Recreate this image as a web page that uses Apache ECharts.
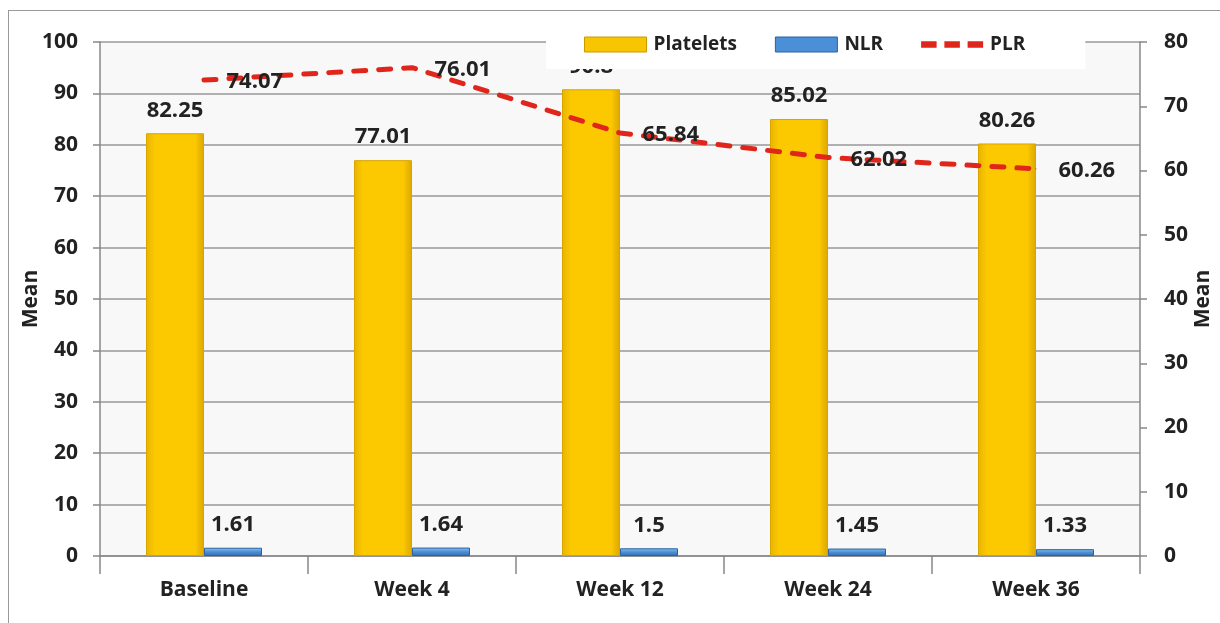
<!DOCTYPE html>
<html><head><meta charset="utf-8">
<script src="https://cdn.jsdelivr.net/npm/echarts@6/dist/echarts.min.js"></script>
<style>html,body{margin:0;padding:0;background:#fff}#c{width:1220px;height:623px}
#frame{position:absolute;left:8px;top:10px;width:1230px;height:640px;border:1.5px solid #999;pointer-events:none}</style>
</head><body><div id="c"></div><div id="frame"></div>
<script>
const categories = ['Baseline', 'Week 4', 'Week 12', 'Week 24', 'Week 36'];
const platelets = [82.25, 77.01, 90.8, 85.02, 80.26];
const nlr = [1.61, 1.64, 1.5, 1.45, 1.33];
const plr = [74.07, 76.01, 65.84, 62.02, 60.26];
const leftTicks = {min: 0, max: 100, interval: 10};
const rightTicks = {min: 0, max: 80, interval: 10};

const font = 'Open Sans, Liberation Sans, sans-serif';
const yellow = new echarts.graphic.LinearGradient(0, 0, 1, 0, [
  {offset: 0, color: '#e8b400'}, {offset: 0.15, color: '#fcc800'},
  {offset: 0.85, color: '#fcc800'}, {offset: 1, color: '#dca600'}]);
const blue = new echarts.graphic.LinearGradient(0, 0, 0, 1, [
  {offset: 0, color: '#8fc3ee'}, {offset: 0.5, color: '#4b8fd6'}, {offset: 1, color: '#2f6fb4'}]);

const chart = echarts.init(document.getElementById('c'));
chart.setOption({
  animation: false,
  textStyle: {fontFamily: font},
  grid: {left: 100, right: 80, top: 42, bottom: 67, show: true, backgroundColor: '#f8f8f8', borderWidth: 0,
         containLabel: false, outerBoundsMode: 'none'},
  legend: {
    top: 30, left: 546, width: 540,
    padding: [5, 60, 15, 38],
    backgroundColor: '#fff', itemGap: 38, itemWidth: 62, itemHeight: 15,
    textStyle: {fontFamily: font, fontWeight: 'bold', fontSize: 19, color: '#222', padding: [0, 0, 0, 2]},
    data: [
      {name: 'Platelets', icon: 'rect', itemStyle: {color: '#f7c600', borderColor: '#c99a00', borderWidth: 1}},
      {name: 'NLR', icon: 'rect', itemStyle: {color: '#4b8fd6', borderColor: '#2b62a0', borderWidth: 1}},
      {name: 'PLR', icon: 'path://M0,0h14v6h-14z M21,0h14v6h-14z M42,0h14v6h-14z', itemStyle: {color: '#e0261b', borderWidth: 0}}
    ],
    z: 10
  },
  xAxis: {
    type: 'category', data: categories,
    axisLine: {lineStyle: {color: '#888', width: 1.5}},
    axisTick: {show: true, length: 18, lineStyle: {color: '#888', width: 1.5}},
    axisLabel: {fontFamily: font, fontWeight: 'bold', fontSize: 21, color: '#222', margin: 24}
  },
  yAxis: [
    {type: 'value', min: leftTicks.min, max: leftTicks.max, interval: leftTicks.interval,
     name: 'Mean', nameLocation: 'middle', nameGap: 58, nameRotate: 90, nameMoveOverlap: false,
     nameTextStyle: {fontFamily: font, fontWeight: 'bold', fontSize: 21, color: '#222'},
     axisLine: {show: true, lineStyle: {color: '#888', width: 1.5}},
     axisTick: {show: true, length: 7, lineStyle: {color: '#888', width: 1.5}},
     axisLabel: {fontFamily: font, fontWeight: 'bold', fontSize: 21, color: '#222', margin: 22},
     splitLine: {lineStyle: {color: '#999', width: 1.5}}},
    {type: 'value', min: rightTicks.min, max: rightTicks.max, interval: rightTicks.interval,
     name: 'Mean', nameLocation: 'middle', nameGap: 53, nameRotate: 90, nameMoveOverlap: false,
     nameTextStyle: {fontFamily: font, fontWeight: 'bold', fontSize: 21, color: '#222'},
     axisLine: {show: true, lineStyle: {color: '#888', width: 1.5}},
     axisTick: {show: true, length: 7, lineStyle: {color: '#888', width: 1.5}},
     axisLabel: {fontFamily: font, fontWeight: 'bold', fontSize: 21, color: '#222', margin: 24},
     splitLine: {show: false}}
  ],
  series: [
    {name: 'Platelets', type: 'bar', data: platelets, barWidth: 58, barGap: '0%',
     itemStyle: {color: yellow, borderColor: '#d9a400', borderWidth: 1},
     label: {show: true, position: 'top', distance: 12, fontFamily: font, fontWeight: 'bold', fontSize: 22, color: '#222'}},
    {name: 'NLR', type: 'bar', data: nlr, barWidth: 58,
     itemStyle: {color: blue, borderColor: '#2b62a0', borderWidth: 1},
     label: {show: true, position: 'top', distance: 12, fontFamily: font, fontWeight: 'bold', fontSize: 22, color: '#222'}},
    {name: 'PLR', type: 'line', yAxisIndex: 1, data: plr, symbol: 'circle', symbolSize: 1, showSymbol: true,
     lineStyle: {color: '#e0261b', width: 5, type: [12, 13], cap: 'round'},
     itemStyle: {color: '#e0261b'},
     label: {show: true, position: 'right', distance: 22, offset: [0, 2], fontFamily: font, fontWeight: 'bold', fontSize: 22, color: '#222'},
     z: 3}
  ]
});
</script></body></html>
